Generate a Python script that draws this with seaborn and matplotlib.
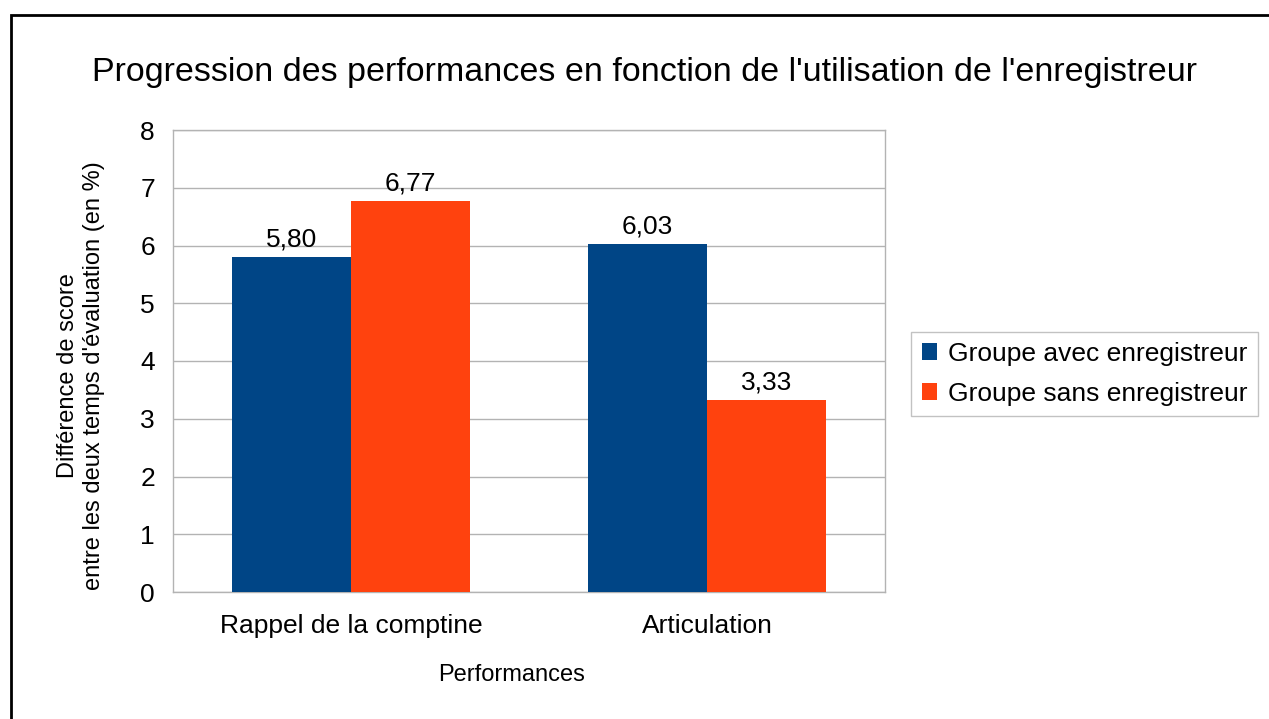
import matplotlib
matplotlib.use("Agg")
import matplotlib.pyplot as plt
import seaborn as sns
import pandas as pd
from matplotlib.patches import Rectangle

categories = ["Rappel de la comptine", "Articulation"]
groups = ["Groupe avec enregistreur", "Groupe sans enregistreur"]
avec_values = [5.80, 6.03]
sans_values = [6.77, 3.33]
y_ticks = [0, 1, 2, 3, 4, 5, 6, 7, 8]

colors = ["#004586", "#FF420E"]
grid_c = "#b3b3b3"

df = pd.DataFrame({
    "Performances": categories * 2,
    "Groupe": [groups[0]] * 2 + [groups[1]] * 2,
    "Valeur": avec_values + sans_values,
})

sns.set_style("white")
plt.rcParams["font.family"] = ["Liberation Sans", "DejaVu Sans"]
plt.rcParams["text.color"] = "black"
plt.rcParams["axes.labelcolor"] = "black"
plt.rcParams["xtick.color"] = "black"
plt.rcParams["ytick.color"] = "black"

W, H = 1269, 719
fig = plt.figure(figsize=(W / 100, H / 100), dpi=100)
ax = fig.add_axes([173 / W, 1 - 592 / H, (885 - 173) / W, (592 - 130) / H])

sns.barplot(data=df, x="Performances", y="Valeur", hue="Groupe",
            palette=colors, width=0.668, gap=0, ax=ax, saturation=1,
            linewidth=0, edgecolor="none", zorder=3)

ax.set_xlim(-0.5, 1.5)
ax.set_ylim(0, 8)
ax.set_yticks(y_ticks)
ax.set_yticklabels([str(t) for t in y_ticks], fontsize=19)
ax.set_xticks([-0.5, 0.5, 1.5], minor=False)
ax.set_xticklabels([])
ax.set_xticks([0, 1], minor=True)
ax.set_xticklabels(categories, minor=True, fontsize=19)
ax.tick_params(axis="x", which="minor", length=0, pad=16)
ax.tick_params(axis="x", which="major", length=10, color=grid_c, width=1)
ax.tick_params(axis="y", length=10, color=grid_c, width=1, labelcolor="black", pad=3)

ax.yaxis.grid(True, color=grid_c, linewidth=1, zorder=0)
ax.set_axisbelow(True)
for s in ax.spines.values():
    s.set_visible(True)
    s.set_color(grid_c)
    s.set_linewidth(1)

for cont in ax.containers:
    ax.bar_label(cont, labels=[f"{v:.2f}".replace(".", ",") for v in cont.datavalues],
                 padding=4, fontsize=19)

ax.set_xlabel("Performances", fontsize=17, ha="center", va="center")
ax.xaxis.set_label_coords(0.476, -0.18)
ax.set_ylabel("Différence de score\nentre les deux temps d'évaluation (en %)",
              fontsize=17, linespacing=1.2, ha="center", va="center")
ax.yaxis.set_label_coords(-0.129, 0.4675)

leg = ax.legend(loc="center left", bbox_to_anchor=(911 / W, 1 - 374 / H),
                bbox_transform=fig.transFigure, frameon=True, fontsize=19,
                handlelength=0.6, handleheight=0.6, handletextpad=0.4,
                borderpad=0.4, labelspacing=0.6, fancybox=False, borderaxespad=0)
leg.get_frame().set_edgecolor(grid_c)
leg.get_frame().set_linewidth(1)

fig.text(645 / W, 1 - 73 / H,
         "Progression des performances en fonction de l'utilisation de l'enregistreur",
         ha="center", va="center", fontsize=24.5)

fig.patches.append(Rectangle((11 / W, -0.1), 1.2, 1 - 15 / H + 0.1,
                             transform=fig.transFigure, fill=False,
                             edgecolor="black", linewidth=2))

fig.savefig("out.png", dpi=100)
